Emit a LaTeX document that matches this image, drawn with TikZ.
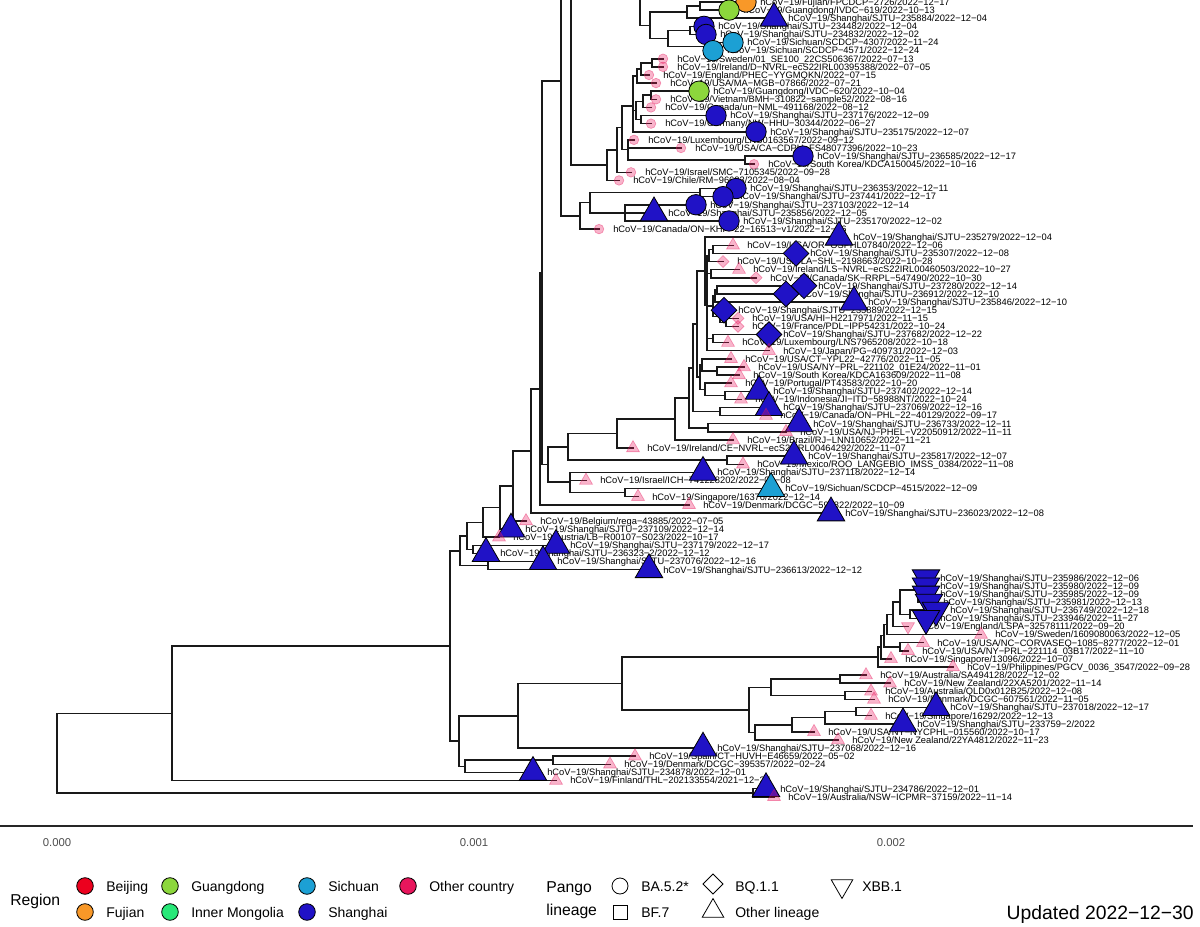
\documentclass[tikz,border=0pt]{standalone}
\usepackage{fontspec}
\setmainfont{Liberation Sans}
\usetikzlibrary{calc}
\pgfdeclarelayer{bg}\pgfdeclarelayer{fg}\pgfsetlayers{bg,main,fg}
\definecolor{cSH}{RGB}{32,18,198}
\definecolor{cSC}{RGB}{28,160,212}
\definecolor{cGD}{RGB}{140,215,60}
\definecolor{cFJ}{RGB}{248,152,40}
\definecolor{cBJ}{RGB}{236,0,30}
\definecolor{cIM}{RGB}{40,232,120}
\definecolor{cOC}{RGB}{232,22,92}
\definecolor{axg}{RGB}{77,77,77}
\tikzset{
 br/.style={line width=1.15pt, line cap=rect, black!90},
 lab/.style={anchor=base west, inner sep=0pt, font=\fontsize{7}{8}\selectfont, xshift=10.5pt, yshift=-2.5pt},
 mkbase/.style={draw=black, line width=0.6pt},
 sh/.style={mkbase, fill=cSH},
 sc/.style={mkbase, fill=cSC},
 gd/.style={mkbase, fill=cGD},
 fj/.style={mkbase, fill=cFJ},
 bj/.style={mkbase, fill=cBJ},
 im/.style={mkbase, fill=cIM},
 ocs/.style={mkbase, fill=cOC},
 oc/.style={fill=cOC, fill opacity=0.32, draw=cOC, draw opacity=0.4, line width=0.5pt},
 key/.style={draw=black, line width=0.6pt},
 legl/.style={anchor=base west, inner sep=0pt, font=\fontsize{10.5}{12}\selectfont, yshift=-3.76pt},
 legt/.style={anchor=base west, inner sep=0pt, font=\fontsize{11.8}{13}\selectfont, yshift=-4.2pt},
 tick/.style={anchor=base, inner sep=0pt, font=\fontsize{8.5}{10}\selectfont, text=axg, yshift=-3pt},
}
\newcommand\mkC[3]{\path[#3] (#1) circle[radius=#2];}
\newcommand\mkT[3]{\path[#3] (#1) ++(0,{-1.5551*#2}) -- ++({1.3468*#2},{2.3327*#2}) -- ++({-2.6936*#2},0) -- cycle;}
\newcommand\mkI[3]{\path[#3] (#1) ++(0,{1.5551*#2}) -- ++({1.3468*#2},{-2.3327*#2}) -- ++({-2.6936*#2},0) -- cycle;}
\newcommand\mkD[3]{\path[#3] (#1) ++(0,{-1.2533*#2}) -- ++({1.2533*#2},{1.2533*#2}) -- ++({-1.2533*#2},{1.2533*#2}) -- ++({-1.2533*#2},{-1.2533*#2}) -- cycle;}
\newcommand\mkS[3]{\path[#3] (#1) ++({-0.8862*#2},{-0.8862*#2}) rectangle ++({1.7725*#2},{1.7725*#2});}
\def\ocname{oc}
\newcommand\leaf[5]{%
 \coordinate (t#1) at (#2,{2+(#1-1)*8.11});
 \node[lab] (l#1) at (t#1) {#5};
 \def\lfA{#4}%
 \ifx\lfA\ocname\def\lfR{4.8}\else\def\lfR{10.2}\fi
 \begin{pgfonlayer}{fg}\csname mk#3\endcsname{t#1}{\lfR}{#4}\end{pgfonlayer}%
}
\newcommand\kid[2]{\draw[br] (#1 |- #2) -- (#2);}
\newcommand\vspan[3]{\draw[br] (#1 |- #2) -- (#1 |- #3);}
\newcommand\clade[3]{\vspan{#1}{#2}{#3}\kid{#1}{#2}\kid{#1}{#3}}
\begin{document}
\begin{tikzpicture}[x=0.75pt,y=-0.75pt]
\useasboundingbox (0,0) rectangle (1200,927);
% ---------------- leaves ----------------
\leaf{1}{746}{C}{fj}{hCoV−19/Fujian/FPCDCP−2726/2022−12−17}
\leaf{2}{729}{C}{gd}{hCoV−19/Guangdong/IVDC−619/2022−10−13}
\leaf{3}{774}{T}{sh}{hCoV−19/Shanghai/SJTU−235884/2022−12−04}
\leaf{4}{704}{C}{sh}{hCoV−19/Shanghai/SJTU−234482/2022−12−04}
\leaf{5}{706}{C}{sh}{hCoV−19/Shanghai/SJTU−234832/2022−12−02}
\leaf{6}{733}{C}{sc}{hCoV−19/Sichuan/SCDCP−4307/2022−11−24}
\leaf{7}{713}{C}{sc}{hCoV−19/Sichuan/SCDCP−4571/2022−12−24}
\leaf{8}{663}{C}{oc}{hCoV−19/Sweden/01\_SE100\_22CS506367/2022−07−13}
\leaf{9}{663}{C}{oc}{hCoV−19/Ireland/D−NVRL−ecS22IRL00395388/2022−07−05}
\leaf{10}{649}{C}{oc}{hCoV−19/England/PHEC−YYGMQKN/2022−07−15}
\leaf{11}{656}{C}{oc}{hCoV−19/USA/MA−MGB−07866/2022−07−21}
\leaf{12}{699}{C}{gd}{hCoV−19/Guangdong/IVDC−620/2022−10−04}
\leaf{13}{656}{C}{oc}{hCoV−19/Vietnam/BMH−310822−sample52/2022−08−16}
\leaf{14}{651}{C}{oc}{hCoV−19/Canada/un−NML−491168/2022−08−12}
\leaf{15}{716}{C}{sh}{hCoV−19/Shanghai/SJTU−237176/2022−12−09}
\leaf{16}{651}{C}{oc}{hCoV−19/Germany/NW−HHU−30344/2022−06−27}
\leaf{17}{756}{C}{sh}{hCoV−19/Shanghai/SJTU−235175/2022−12−07}
\leaf{18}{634}{C}{oc}{hCoV−19/Luxembourg/LNS0163567/2022−09−12}
\leaf{19}{681}{C}{oc}{hCoV−19/USA/CA−CDPH−FS48077396/2022−10−23}
\leaf{20}{803}{C}{sh}{hCoV−19/Shanghai/SJTU−236585/2022−12−17}
\leaf{21}{754}{C}{oc}{hCoV−19/South Korea/KDCA150045/2022−10−16}
\leaf{22}{631}{C}{oc}{hCoV−19/Israel/SMC−7105345/2022−09−28}
\leaf{23}{619}{C}{oc}{hCoV−19/Chile/RM−96683/2022−08−04}
\leaf{24}{736}{C}{sh}{hCoV−19/Shanghai/SJTU−236353/2022−12−11}
\leaf{25}{723}{C}{sh}{hCoV−19/Shanghai/SJTU−237441/2022−12−17}
\leaf{26}{696}{C}{sh}{hCoV−19/Shanghai/SJTU−237103/2022−12−14}
\leaf{27}{654}{T}{sh}{hCoV−19/Shanghai/SJTU−235856/2022−12−05}
\leaf{28}{729}{C}{sh}{hCoV−19/Shanghai/SJTU−235170/2022−12−02}
\leaf{29}{599}{C}{oc}{hCoV−19/Canada/ON−KHP−22−16513−v1/2022−12−06}
\leaf{30}{839}{T}{sh}{hCoV−19/Shanghai/SJTU−235279/2022−12−04}
\leaf{31}{733}{T}{oc}{hCoV−19/USA/OR−OSPHL07840/2022−12−06}
\leaf{32}{796}{D}{sh}{hCoV−19/Shanghai/SJTU−235307/2022−12−08}
\leaf{33}{723}{D}{oc}{hCoV−19/USA/LA−SHL−2198663/2022−10−28}
\leaf{34}{739}{T}{oc}{hCoV−19/Ireland/LS−NVRL−ecS22IRL00460503/2022−10−27}
\leaf{35}{756}{D}{oc}{hCoV−19/Canada/SK−RRPL−547490/2022−10−30}
\leaf{36}{804}{D}{sh}{hCoV−19/Shanghai/SJTU−237280/2022−12−14}
\leaf{37}{786}{D}{sh}{hCoV−19/Shanghai/SJTU−236912/2022−12−10}
\leaf{38}{854}{T}{sh}{hCoV−19/Shanghai/SJTU−235846/2022−12−10}
\leaf{39}{724}{D}{sh}{hCoV−19/Shanghai/SJTU−235889/2022−12−15}
\leaf{40}{738}{D}{oc}{hCoV−19/USA/HI−H2217971/2022−11−15}
\leaf{41}{738}{D}{oc}{hCoV−19/France/PDL−IPP54231/2022−10−24}
\leaf{42}{769}{D}{sh}{hCoV−19/Shanghai/SJTU−237682/2022−12−22}
\leaf{43}{728}{T}{oc}{hCoV−19/Luxembourg/LNS7965208/2022−10−18}
\leaf{44}{769}{T}{oc}{hCoV−19/Japan/PG−409731/2022−12−03}
\leaf{45}{731}{T}{oc}{hCoV−19/USA/CT−YPL22−42776/2022−11−05}
\leaf{46}{744}{T}{oc}{hCoV−19/USA/NY−PRL−221102\_01E24/2022−11−01}
\leaf{47}{739}{T}{oc}{hCoV−19/South Korea/KDCA163609/2022−11−08}
\leaf{48}{731}{T}{oc}{hCoV−19/Portugal/PT43583/2022−10−20}
\leaf{49}{759}{T}{sh}{hCoV−19/Shanghai/SJTU−237402/2022−12−14}
\leaf{50}{741}{T}{oc}{hCoV−19/Indonesia/JI−ITD−58988NT/2022−10−24}
\leaf{51}{769}{T}{sh}{hCoV−19/Shanghai/SJTU−237069/2022−12−16}
\leaf{52}{766}{T}{oc}{hCoV−19/Canada/ON−PHL−22−40129/2022−09−17}
\leaf{53}{799}{T}{sh}{hCoV−19/Shanghai/SJTU−236733/2022−12−11}
\leaf{54}{786}{T}{oc}{hCoV−19/USA/NJ−PHEL−V22050912/2022−11−11}
\leaf{55}{733}{T}{oc}{hCoV−19/Brazil/RJ−LNN10652/2022−11−21}
\leaf{56}{633}{T}{oc}{hCoV−19/Ireland/CE−NVRL−ecS22IRL00464292/2022−11−07}
\leaf{57}{794}{T}{sh}{hCoV−19/Shanghai/SJTU−235817/2022−12−07}
\leaf{58}{743}{T}{oc}{hCoV−19/Mexico/ROO\_LANGEBIO\_IMSS\_0384/2022−11−08}
\leaf{59}{703}{T}{sh}{hCoV−19/Shanghai/SJTU−237118/2022−12−14}
\leaf{60}{586}{T}{oc}{hCoV−19/Israel/ICH−741228202/2022−09−08}
\leaf{61}{771}{T}{sc}{hCoV−19/Sichuan/SCDCP−4515/2022−12−09}
\leaf{62}{638}{T}{oc}{hCoV−19/Singapore/16376/2022−12−14}
\leaf{63}{689}{T}{oc}{hCoV−19/Denmark/DCGC−598822/2022−10−09}
\leaf{64}{831}{T}{sh}{hCoV−19/Shanghai/SJTU−236023/2022−12−08}
\leaf{65}{526}{T}{oc}{hCoV−19/Belgium/rega−43885/2022−07−05}
\leaf{66}{511}{T}{sh}{hCoV−19/Shanghai/SJTU−237109/2022−12−14}
\leaf{67}{499}{T}{oc}{hCoV−19/Austria/LB−R00107−S023/2022−10−17}
\leaf{68}{556}{T}{sh}{hCoV−19/Shanghai/SJTU−237179/2022−12−17}
\leaf{69}{486}{T}{sh}{hCoV−19/Shanghai/SJTU−236323−2/2022−12−12}
\leaf{70}{543}{T}{sh}{hCoV−19/Shanghai/SJTU−237076/2022−12−16}
\leaf{71}{649}{T}{sh}{hCoV−19/Shanghai/SJTU−236613/2022−12−12}
\leaf{72}{926}{I}{sh}{hCoV−19/Shanghai/SJTU−235986/2022−12−06}
\leaf{73}{926}{I}{sh}{hCoV−19/Shanghai/SJTU−235980/2022−12−09}
\leaf{74}{926}{I}{sh}{hCoV−19/Shanghai/SJTU−235985/2022−12−09}
\leaf{75}{929}{I}{sh}{hCoV−19/Shanghai/SJTU−235981/2022−12−13}
\leaf{76}{936}{I}{sh}{hCoV−19/Shanghai/SJTU−236749/2022−12−18}
\leaf{77}{926}{I}{sh}{hCoV−19/Shanghai/SJTU−233946/2022−11−27}
\leaf{78}{908}{I}{oc}{hCoV−19/England/LSPA−32578111/2022−09−20}
\leaf{79}{981}{T}{oc}{hCoV−19/Sweden/1609080063/2022−12−05}
\leaf{80}{923}{T}{oc}{hCoV−19/USA/NC−CORVASEQ−1085−8277/2022−12−01}
\leaf{81}{908}{T}{oc}{hCoV−19/USA/NY−PRL−221114\_03B17/2022−11−10}
\leaf{82}{891}{T}{oc}{hCoV−19/Singapore/13096/2022−10−07}
\leaf{83}{953}{T}{oc}{hCoV−19/Philippines/PGCV\_0036\_3547/2022−09−28}
\leaf{84}{866}{T}{oc}{hCoV−19/Australia/SA494128/2022−12−02}
\leaf{85}{890}{T}{oc}{hCoV−19/New Zealand/22XA5201/2022−11−14}
\leaf{86}{871}{T}{oc}{hCoV−19/Australia/QLD0x012B25/2022−12−08}
\leaf{87}{874}{T}{oc}{hCoV−19/Denmark/DCGC−607561/2022−11−05}
\leaf{88}{936}{T}{sh}{hCoV−19/Shanghai/SJTU−237018/2022−12−17}
\leaf{89}{871}{T}{oc}{hCoV−19/Singapore/16292/2022−12−13}
\leaf{90}{903}{T}{sh}{hCoV−19/Shanghai/SJTU−233759−2/2022}
\leaf{91}{814}{T}{oc}{hCoV−19/USA/NY−NYCPHL−015560/2022−10−17}
\leaf{92}{838}{T}{oc}{hCoV−19/New Zealand/22YA4812/2022−11−23}
\leaf{93}{703}{T}{sh}{hCoV−19/Shanghai/SJTU−237068/2022−12−16}
\leaf{94}{635}{T}{oc}{hCoV−19/Spain/CT−HUVH−E46659/2022−05−02}
\leaf{95}{610}{T}{oc}{hCoV−19/Denmark/DCGC−395357/2022−02−24}
\leaf{96}{533}{T}{sh}{hCoV−19/Shanghai/SJTU−234878/2022−12−01}
\leaf{97}{556}{T}{oc}{hCoV−19/Finland/THL−202133554/2021−12−27}
\leaf{98}{766}{T}{sh}{hCoV−19/Shanghai/SJTU−234786/2022−12−01}
\leaf{99}{774}{T}{oc}{hCoV−19/Australia/NSW−ICPMR−37159/2022−11−14}
% ---------------- internal nodes ----------------
\coordinate (top) at (0,-15);
\coordinate (n700t) at (700,6.05);
\coordinate (n687) at (687,12.1);
\coordinate (n690) at (690,30.35);
\coordinate (n705t) at (705,46.65);
\coordinate (n668) at (668,38.5);
\coordinate (n650) at (650,25.3);
\coordinate (n640) at (640,-15);
\coordinate (n652) at (652,62.85);
\coordinate (n641) at (641,68.9);
\coordinate (n637) at (637,76.0);
\coordinate (n651) at (651,95.25);
\coordinate (n643) at (643,101.3);
\coordinate (n641b) at (641,119.6);
\coordinate (n636) at (636,110.45);
\coordinate (n633) at (633,106.1);
\coordinate (n745) at (745,160.15);
\coordinate (n628) at (628,149.35);
\coordinate (n622t) at (622,127.7);
\coordinate (n617t) at (617,150.0);
\coordinate (n607) at (607,165.2);
\coordinate (n571) at (571,-15);
\coordinate (nq2) at (700,192.55);
\coordinate (nr) at (625,212.9);
\coordinate (n590) at (590,202.7);
\coordinate (n583) at (580,215.9);
\coordinate (n561) at (561,81);
\coordinate (n713a) at (713,249.35);
\coordinate (n709) at (709,255.4);
\coordinate (n711) at (711,273.65);
\coordinate (n717b) at (717,289.95);
\coordinate (n715) at (715,296.0);
\coordinate (n726) at (726,322.35);
\coordinate (n720) at (720,316.3);
\coordinate (n713b) at (713,306.15);
\coordinate (n713c) at (713,338.55);
\coordinate (n707) at (707,304.9);
\coordinate (n705) at (705,271.05);
\coordinate (n717) at (717,371.05);
\coordinate (n702) at (702,364.9);
\coordinate (n725) at (725,395.35);
\coordinate (n705b) at (705,389.3);
\coordinate (n700c) at (700,377.1);
\coordinate (n699) at (697,324.1);
\coordinate (n720b) at (720,411.55);
\coordinate (n693) at (693,367.8);
\coordinate (n708) at (708,427.75);
\coordinate (n689) at (689,397.8);
\coordinate (n675) at (675,418.85);
\coordinate (n617) at (617,433.5);
\coordinate (n727) at (727,460.25);
\coordinate (n568) at (568,446.9);
\coordinate (n625) at (625,492.65);
\coordinate (n570) at (570,481.85);
\coordinate (n548) at (548,464.4);
\coordinate (n542) at (542,272.7);
\coordinate (n540) at (540,388.75);
\coordinate (n531) at (531,450.8);
\coordinate (n513) at (513,485.9);
\coordinate (n500) at (500,507.55);
\coordinate (n483) at (483,522.4);
\coordinate (n473) at (473,549.45);
\coordinate (n467) at (467,535.9);
\coordinate (n488) at (488,565.65);
\coordinate (n460) at (460,550.8);
\coordinate (n918) at (918,589.95);
\coordinate (n910) at (910,614.35);
\coordinate (n900) at (900,602.15);
\coordinate (n893) at (893,614.3);
\coordinate (n887) at (887,624.45);
\coordinate (n900b) at (900,646.75);
\coordinate (n885) at (884,635.6);
\coordinate (n881) at (881,647.25);
\coordinate (n878) at (878,657.1);
\coordinate (n840) at (840,679.15);
\coordinate (n845) at (845,695.45);
\coordinate (n771) at (771,687.3);
\coordinate (n856) at (856,711.65);
\coordinate (n825) at (825,717.7);
\coordinate (n792) at (792,724.8);
\coordinate (n755) at (755,732.4);
\coordinate (n749) at (749,709.85);
\coordinate (n622) at (622,683.5);
\coordinate (n518) at (518,715.8);
\coordinate (n553) at (553,760.25);
\coordinate (n465) at (465,766.4);
\coordinate (n459) at (459,741.1);
\coordinate (n450) at (450,645.95);
\coordinate (n172) at (172,713.3);
\coordinate (n753) at (753,792.75);
\coordinate (n57) at (57,753.0);
% ---------------- branches ----------------
\begin{pgfonlayer}{bg}
\clade{n700t}{t1}{t2}
\clade{n687}{n700t}{t3}
\clade{n690}{t4}{t5}
\clade{n705t}{t6}{t7}
\clade{n668}{n690}{n705t}
\clade{n650}{n687}{n668}
\vspan{n640}{top}{n650}\kid{n640}{n650}
\clade{n652}{t8}{t9}
\clade{n641}{n652}{t10}
\clade{n637}{n641}{t11}
\clade{n651}{t12}{t13}
\clade{n643}{n651}{t14}
\clade{n641b}{t15}{t16}
\clade{n636}{n643}{n641b}
\clade{n633}{n637}{t17}\kid{n633}{n636}
\clade{n745}{t20}{t21}
\clade{n628}{t18}{n745}\kid{n628}{t19}
\clade{n622t}{n633}{n628}
\clade{n617t}{n622t}{t22}
\clade{n607}{n617t}{t23}
\vspan{n571}{top}{n607}\kid{n571}{n607}
\clade{nq2}{t24}{t25}
\clade{nr}{t26}{t28}\kid{nr}{t27}
\clade{n590}{nq2}{nr}
\clade{n583}{n590}{t29}
\vspan{n561}{top}{n583}\kid{n561}{n583}
\clade{n713a}{t31}{t32}
\clade{n709}{n713a}{t33}
\clade{n711}{t34}{t35}
\clade{n717b}{t36}{t37}
\clade{n715}{n717b}{t38}
\clade{n726}{t40}{t41}
\clade{n720}{t39}{n726}
\clade{n713b}{n715}{n720}
\clade{n713c}{t42}{t43}
\clade{n707}{n709}{t44}\kid{n707}{n711}\kid{n707}{n713b}\kid{n707}{n713c}
\clade{n705}{t30}{n707}
\clade{n717}{t46}{t47}
\clade{n702}{t45}{n717}
\clade{n725}{t49}{t50}
\clade{n705b}{t48}{n725}
\clade{n700c}{n702}{n705b}
\clade{n699}{n705}{n700c}
\clade{n720b}{t51}{t52}
\clade{n693}{n699}{n720b}
\clade{n708}{t53}{t54}
\clade{n689}{n693}{n708}
\clade{n675}{n689}{t55}
\clade{n617}{n675}{t56}
\clade{n727}{t57}{t58}
\clade{n568}{n617}{n727}
\clade{n625}{t61}{t62}
\clade{n570}{t59}{n625}\kid{n570}{t60}
\clade{n548}{n568}{n570}
\clade{n542}{n561}{n548}
\clade{n540}{n542}{t63}
\clade{n531}{n540}{t64}
\clade{n513}{n531}{t65}
\clade{n500}{n513}{t66}
\clade{n483}{n500}{t67}
\clade{n473}{t68}{t69}
\clade{n467}{n483}{n473}
\clade{n488}{t70}{t71}
\clade{n460}{n467}{n488}
\clade{n918}{t72}{t75}\kid{n918}{t73}\kid{n918}{t74}
\clade{n910}{t76}{t77}
\clade{n900}{n918}{n910}
\clade{n893}{n900}{t78}
\clade{n887}{n893}{t79}
\clade{n900b}{t80}{t81}
\clade{n885}{n887}{n900b}
\clade{n881}{n885}{t82}
\clade{n878}{n881}{t83}
\clade{n840}{t84}{t85}
\clade{n845}{t86}{t87}
\clade{n771}{n840}{n845}
\clade{n856}{t88}{t89}
\clade{n825}{n856}{t90}
\clade{n792}{n825}{t91}
\clade{n755}{n792}{t92}
\clade{n749}{n771}{n755}
\clade{n622}{n878}{n749}
\clade{n518}{n622}{t93}
\clade{n553}{t94}{t95}
\clade{n465}{n553}{t96}
\clade{n459}{n518}{n465}
\clade{n450}{n460}{n459}
\clade{n172}{n450}{t97}
\clade{n753}{t98}{t99}
\clade{n57}{n172}{n753}
\end{pgfonlayer}
% ---------------- axis ----------------
\coordinate (ax0) at (0,826);
\coordinate (ax1) at (1193,826);
\draw[line width=1.4pt, black!85] (ax0) -- (ax1);
\node[tick] (tk0) at (57,842) {0.000};
\node[tick] (tk1) at (474,842) {0.001};
\node[tick] (tk2) at (891,842) {0.002};
% ---------------- legend ----------------
\node[legt] (regT) at (10,900) {Region};
\path[bj] (85,886) circle[radius=8.3];
\path[fj] (85,912) circle[radius=8.3];
\path[gd] (170,886) circle[radius=8.3];
\path[im] (170,912) circle[radius=8.3];
\path[sc] (307,886) circle[radius=8.3];
\path[sh] (307,912) circle[radius=8.3];
\path[ocs] (408,886) circle[radius=8.3];
\node[legl] (lgBJ) at (106,886) {Beijing};
\node[legl] (lgFJ) at (106,912) {Fujian};
\node[legl] (lgGD) at (191,886) {Guangdong};
\node[legl] (lgIM) at (191,912) {Inner Mongolia};
\node[legl] (lgSC) at (328,886) {Sichuan};
\node[legl] (lgSH) at (328,912) {Shanghai};
\node[legl] (lgOC) at (429,886) {Other country};
\node[legt] (pgT1) at (546,887) {Pango};
\node[legt] (pgT2) at (546,910) {lineage};
\coordinate (kBA) at (620,886);
\coordinate (kBF) at (620,912);
\coordinate (kBQ) at (713,884);
\coordinate (kOL) at (713,911);
\coordinate (kXB) at (842,886);
\mkC{kBA}{8}{key}
\mkS{kBF}{8}{key}
\mkD{kBQ}{8}{key}
\mkT{kOL}{8}{key}
\mkI{kXB}{8}{key}
\node[legl] (lgBA) at (641,886) {BA.5.2*};
\node[legl] (lgBF) at (641,912) {BF.7};
\node[legl] (lgBQ) at (735,886) {BQ.1.1};
\node[legl] (lgOL) at (735,912) {Other lineage};
\node[legl] (lgXB) at (862,886) {XBB.1};
\node[anchor=base east, inner sep=0pt, font=\fontsize{14.5}{16}\selectfont, yshift=-5.2pt] (upd) at (1194,913) {Updated 2022−12−30};
\end{tikzpicture}
\end{document}
